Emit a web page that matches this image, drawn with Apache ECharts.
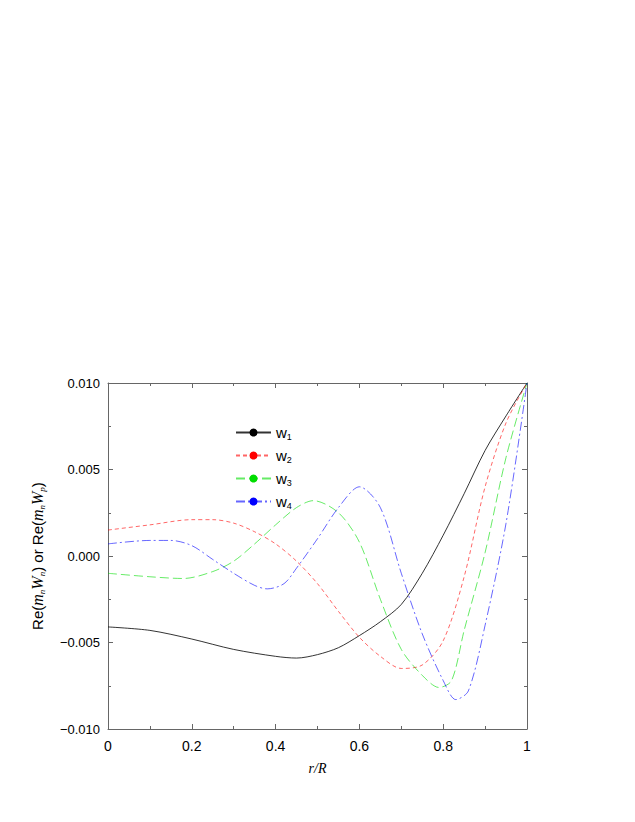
<!DOCTYPE html>
<html><head><meta charset="utf-8">
<script src="https://cdn.jsdelivr.net/npm/echarts@6/dist/echarts.min.js"></script>
<style>html,body{margin:0;background:#fff}#c{width:635px;height:822px}</style>
</head><body><div id="c"></div>
<script>
var w1 = [[0,-0.0041],[0.1,-0.0043],[0.2,-0.0048],[0.3,-0.0054],[0.4,-0.0058],[0.45,-0.0059],[0.5,-0.0057],[0.55,-0.0053],[0.6,-0.0046],[0.65,-0.0038],[0.7,-0.0028],[0.75,-0.0010],[0.8,0.0012],[0.85,0.0036],[0.9,0.0061],[0.95,0.0081],[1,0.010]];
var w2 = [[0,0.0015],[0.1,0.0018],[0.2,0.0021],[0.25,0.0021],[0.3,0.0019],[0.35,0.0014],[0.4,0.0007],[0.45,-0.0003],[0.5,-0.0016],[0.55,-0.0032],[0.6,-0.0047],[0.65,-0.0058],[0.7,-0.0065],[0.75,-0.0063],[0.8,-0.0049],[0.85,-0.0012],[0.9,0.0040],[0.95,0.0077],[1,0.010]];
var w3 = [[0,-0.0010],[0.1,-0.0012],[0.18,-0.0013],[0.25,-0.0009],[0.3,-0.0003],[0.35,0.0007],[0.4,0.0018],[0.45,0.0028],[0.49,0.0032],[0.55,0.0025],[0.6,0.0008],[0.65,-0.0025],[0.7,-0.0054],[0.75,-0.0069],[0.79,-0.0076],[0.82,-0.0072],[0.85,-0.0043],[0.9,0.0002],[0.95,0.0057],[1,0.010]];
var w4 = [[0,0.0007],[0.1,0.0009],[0.15,0.0009],[0.2,0.0006],[0.25,-0.0002],[0.3,-0.0010],[0.35,-0.0017],[0.38,-0.0019],[0.42,-0.0016],[0.45,-0.0007],[0.5,0.0010],[0.55,0.0028],[0.6,0.0040],[0.65,0.0028],[0.7,-0.0010],[0.75,-0.0045],[0.8,-0.0072],[0.83,-0.0083],[0.86,-0.0078],[0.9,-0.0040],[0.95,0.0019],[1,0.010]];
var names = ['w1','w2','w3','w4'];
var colors = ['#000000','#ff0000','#00dd00','#0000ff'];
var dashes = ['solid',[4,3],[9,4],[9,3,2,3]];
var seriesData = [w1,w2,w3,w4];

var chart = echarts.init(document.getElementById('c'), null, { renderer: 'svg' });
var font = 'Liberation Sans, Arial, sans-serif';
function axisCommon() {
  return {
    axisLine: { onZero: false, lineStyle: { color: '#666' } },
    axisTick: { inside: true, length: 5, lineStyle: { color: '#666' } },
    minorTick: { show: true, splitNumber: 2, length: 3, lineStyle: { color: '#666' } },
    splitLine: { show: false }
  };
}
chart.setOption({
  animation: false,
  grid: { left: 108, top: 383, width: 419, height: 346 },
  legend: {
    orient: 'vertical', left: 230, top: 420, itemWidth: 35, itemHeight: 10, itemGap: 7,
    data: names,
    formatter: function (n) { return '{a|w}{s|' + n.slice(1) + '}'; },
    textStyle: { rich: {
      a: { fontFamily: font, fontSize: 15, color: '#000' },
      s: { fontFamily: font, fontSize: 9, color: '#000', verticalAlign: 'bottom', padding: [8, 0, 0, 0] }
    } }
  },
  xAxis: [Object.assign(axisCommon(), {
    type: 'value', min: 0, max: 1, interval: 0.2,
    name: 'r/R', nameLocation: 'middle', nameGap: 32,
    nameTextStyle: { fontFamily: 'Liberation Serif, serif', fontStyle: 'italic', fontSize: 14, color: '#000' },
    axisLabel: { fontFamily: font, fontSize: 14, color: '#000', margin: 10,
      formatter: function (v) { return v === 0 || v === 1 ? String(v) : v.toFixed(1); } }
  }),
  Object.assign(axisCommon(), { type: 'value', position: 'top', min: 0, max: 1, interval: 0.2, axisLabel: { show: false } })],
  yAxis: [Object.assign(axisCommon(), {
    type: 'value', min: -0.01, max: 0.01, interval: 0.005,
    name: '{t|Re(}{i|m}{s|n}{i|W}{s|n}{t|) or Re(}{i|m}{s|n}{i|W}{s|p}{t|)}',
    nameLocation: 'middle', nameGap: 62, nameRotate: 90,
    nameTextStyle: { rich: {
      t: { fontFamily: font, fontSize: 15, color: '#000' },
      i: { fontFamily: 'Liberation Serif, serif', fontStyle: 'italic', fontSize: 16, color: '#000' },
      s: { fontFamily: 'Liberation Serif, serif', fontStyle: 'italic', fontSize: 9, color: '#000', verticalAlign: 'bottom', padding: [8, 0, 0, 0] }
    } },
    axisLabel: { fontFamily: font, fontSize: 13, color: '#000', margin: 8,
      formatter: function (v) { return v.toFixed(3).replace('-', '\u2212'); } }
  }),
  Object.assign(axisCommon(), { type: 'value', position: 'right', min: -0.01, max: 0.01, interval: 0.005, axisLabel: { show: false } })],
  series: seriesData.map(function (d, i) {
    return {
      name: names[i], type: 'line', data: d, smooth: 0.3, showSymbol: false, symbol: 'none',
      lineStyle: { color: colors[i], width: 1, type: dashes[i], opacity: i === 0 ? 0.8 : 0.6 },
      itemStyle: { color: colors[i] }
    };
  })
});
</script></body></html>
